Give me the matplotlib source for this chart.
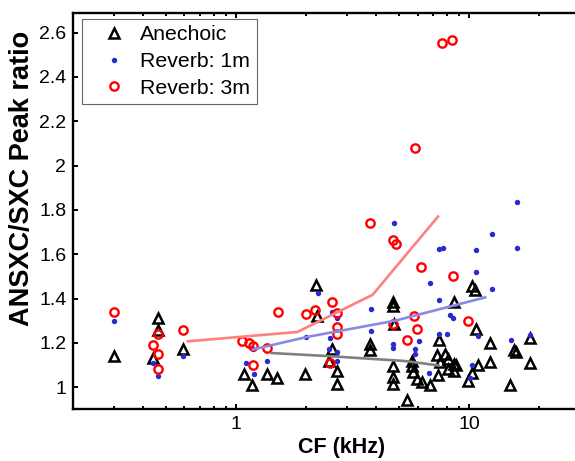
import matplotlib
matplotlib.use("Agg")
import matplotlib.pyplot as plt
from matplotlib.ticker import FuncFormatter, NullFormatter, LogLocator

# ── Data (CF in kHz, peak ratio) ────────────────────────────────────────────
anechoic_cf = [0.30, 0.46, 0.46, 0.44, 0.59, 1.085, 1.17, 1.35, 1.50, 1.98,
               2.20, 2.22, 2.57, 2.49, 2.70, 2.70, 3.76, 3.76, 4.70, 4.70,
               4.77, 4.73, 4.73, 4.73, 5.67, 5.74, 5.95, 6.27, 6.76, 5.40,
               5.70, 7.40, 7.25, 7.88, 8.07, 7.50, 7.35, 8.10, 8.60, 8.80,
               8.60, 8.60, 10.27, 10.6, 10.7, 12.3, 12.3, 10.95, 10.27, 9.90,
               15.5, 15.9, 15.0, 18.2, 18.2]
anechoic_ratio = [1.14, 1.31, 1.26, 1.13, 1.17, 1.06, 1.01, 1.06, 1.04, 1.06,
                  1.46, 1.32, 1.17, 1.12, 1.075, 1.015, 1.196, 1.166, 1.385, 1.365,
                  1.287, 1.094, 1.045, 1.015, 1.094, 1.068, 1.038, 1.023, 1.012, 0.94,
                  1.12, 1.214, 1.143, 1.151, 1.128, 1.113, 1.053, 1.083, 1.106, 1.098,
                  1.075, 1.385, 1.456, 1.438, 1.264, 1.20, 1.113, 1.10, 1.063, 1.03,
                  1.169, 1.158, 1.012, 1.224, 1.109]

reverb1_cf = [0.30, 0.44, 0.46, 0.59, 1.10, 1.19, 1.18, 1.35, 2.00, 2.25,
              2.57, 2.53, 2.49, 2.72, 2.70, 2.72, 3.78, 3.78, 4.77, 4.73,
              4.73, 5.86, 5.86, 6.10, 6.70, 6.79, 7.45, 7.45, 7.70, 7.45,
              8.04, 8.30, 8.55, 10.7, 10.7, 12.5, 12.5, 16.0, 16.0, 10.95,
              10.27, 10.1, 15.1, 18.2]
reverb1_ratio = [1.30, 1.11, 1.05, 1.14, 1.11, 1.06, 1.17, 1.12, 1.225, 1.425,
                 1.34, 1.22, 1.17, 1.31, 1.158, 1.12, 1.355, 1.253, 1.74, 1.196,
                 1.178, 1.174, 1.151, 1.208, 1.063, 1.468, 1.392, 1.622, 1.626, 1.238,
                 1.238, 1.325, 1.314, 1.62, 1.52, 1.69, 1.445, 1.834, 1.629, 1.23,
                 1.10, 1.043, 1.211, 1.234]

reverb3_cf = [0.30, 0.46, 0.44, 0.46, 0.46, 0.59, 1.056, 1.14, 1.186, 1.354,
              1.18, 1.51, 1.99, 2.18, 2.57, 2.72, 2.72, 2.72, 2.53, 3.76,
              4.73, 4.85, 6.20, 4.70, 5.40, 5.77, 5.98, 8.52, 9.90, 5.83,
              7.63, 8.43]
reverb3_ratio = [1.34, 1.24, 1.19, 1.15, 1.08, 1.26, 1.21, 1.20, 1.185, 1.175,
                 1.10, 1.34, 1.33, 1.35, 1.385, 1.335, 1.27, 1.24, 1.11, 1.74,
                 1.664, 1.646, 1.543, 1.287, 1.211, 1.32, 1.264, 1.502, 1.30, 2.08,
                 2.554, 2.566]

# binned means
anechoic_mean_cf = [1.42, 2.5, 5.3, 7.4]
anechoic_mean = [1.154, 1.14, 1.118, 1.098]
reverb1_mean_cf = [1.18, 2.0, 4.8, 11.7]
reverb1_mean = [1.17, 1.226, 1.30, 1.405]
reverb3_mean_cf = [0.62, 1.83, 3.85, 7.35]
reverb3_mean = [1.207, 1.249, 1.417, 1.77]

plt.rcParams["font.family"] = ["Liberation Sans", "DejaVu Sans"]

fig = plt.figure(figsize=(5.75, 4.61), dpi=100)
ax = fig.add_axes([0.1275, 0.1121, 0.9325, 0.8603])

ax.plot(anechoic_cf, anechoic_ratio, "^", ls="none", ms=6.8, mfc="none",
        mec="black", mew=1.8, label="Anechoic")
ax.plot(reverb1_cf, reverb1_ratio, "o", ls="none", ms=3.9, mfc="#2a2ad2",
        mec="#2a2ad2", mew=0, label="Reverb: 1m")
ax.plot(reverb3_cf, reverb3_ratio, "o", ls="none", ms=6.0, mfc="none",
        mec="#ff0000", mew=1.7, label="Reverb: 3m")

ax.plot(anechoic_mean_cf, anechoic_mean, "-", color="#808080", lw=1.9)
ax.plot(reverb1_mean_cf, reverb1_mean, "-", color="#8a8ae6", lw=1.9)
ax.plot(reverb3_mean_cf, reverb3_mean, "-", color="#ff8080", lw=1.9)

ax.set_xscale("log")
ax.set_xlim(0.2, 40)
ax.set_ylim(0.9, 2.69)
ax.set_yticks([1, 1.2, 1.4, 1.6, 1.8, 2, 2.2, 2.4, 2.6])
ax.yaxis.set_major_formatter(FuncFormatter(lambda v, p: "%g" % v))
ax.xaxis.set_major_locator(LogLocator(base=10))
ax.xaxis.set_minor_locator(LogLocator(base=10, subs=range(2, 10)))
ax.xaxis.set_major_formatter(FuncFormatter(lambda v, p: "%g" % v))
ax.xaxis.set_minor_formatter(NullFormatter())

for s in ax.spines.values():
    s.set_linewidth(1.7)
ax.tick_params(which="both", direction="in", top=True, right=False,
               labelsize=14, width=1.4)
ax.tick_params(which="major", length=3.6, pad=5)
ax.tick_params(which="minor", length=2.0)

ax.set_xlabel("CF (kHz)", fontsize=15.5, fontweight="bold", labelpad=3)
ax.set_ylabel("ANSXC/SXC Peak ratio", fontsize=19.5, fontweight="bold")
ax.yaxis.set_label_coords(-0.072, 0.583)

leg = ax.legend(loc="upper left", bbox_to_anchor=(0.016, 0.984),
                borderaxespad=0, fontsize=15.3, numpoints=1, fancybox=False,
                borderpad=0.3, handlelength=2.45, handletextpad=0.0,
                labelspacing=0.36)
leg.get_frame().set_edgecolor("#404040")
leg.get_frame().set_linewidth(0.8)

fig.savefig("out.png", dpi=100)
